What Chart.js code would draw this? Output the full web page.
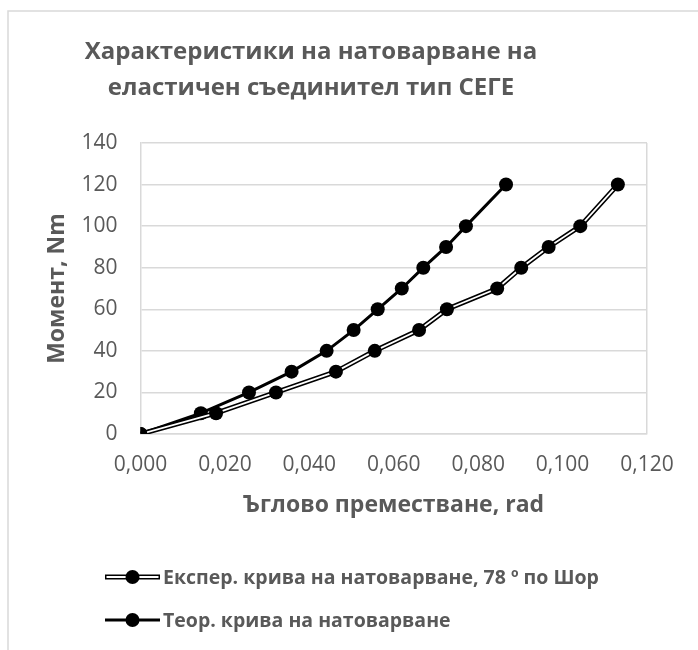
<!DOCTYPE html>
<html lang="bg">
<head>
<meta charset="utf-8">
<title>Характеристики на натоварване на еластичен съединител тип СЕГЕ</title>
<script src="https://cdn.jsdelivr.net/npm/chart.js@4.4.1/dist/chart.umd.min.js"></script>
<style>
  html, body { margin: 0; padding: 0; background: #ffffff; }
  #wrap { position: relative; width: 698px; height: 650px; }
</style>
</head>
<body>
<div id="wrap"><canvas id="chart"></canvas></div>
<script>
// Torque levels (Nm) at which the angle was recorded
const torque = [0, 10, 20, 30, 40, 50, 60, 70, 80, 90, 100, 120];
// Angular displacement (rad), experimental curve, 78 Shore
const expAngle = [0, 0.0179, 0.0321, 0.0463, 0.0555, 0.0660, 0.0726, 0.0845, 0.0902, 0.0967, 0.1042, 0.1131];
// Angular displacement (rad), theoretical curve
const theorAngle = [0, 0.0143, 0.0257, 0.0358, 0.0441, 0.0505, 0.0562, 0.0619, 0.0670, 0.0724, 0.0771, 0.0866];

const titleLines = ['Характеристики на натоварване на', 'еластичен съединител тип СЕГЕ'];
const expLabel = 'Експер. крива на натоварване, 78 º по Шор';
const theorLabel = 'Теор. крива на натоварване';
const xTitle = 'Ъглово преместване, rad';
const yTitle = 'Момент, Nm';

const TEXT = '#595959';
const GRID = '#d9d9d9';
const FONT = '"Open Sans", "Liberation Sans", sans-serif';

const pts = (xs) => xs.map((x, i) => ({ x: x, y: torque[i] }));

// Frame, title and legend drawn around the plot
const decor = {
  id: 'decor',
  beforeDraw(chart) {
    const ctx = chart.ctx;
    ctx.save();
    ctx.fillStyle = '#ffffff';
    ctx.fillRect(0, 0, chart.width, chart.height);
    ctx.strokeStyle = GRID;
    ctx.lineWidth = 1.5;
    ctx.strokeRect(8, 11, 900, 900);
    ctx.restore();
  },
  afterDraw(chart) {
    const ctx = chart.ctx;
    ctx.save();
    ctx.fillStyle = TEXT;
    ctx.textAlign = 'center';
    ctx.textBaseline = 'middle';
    ctx.font = 'bold 24px ' + FONT;
    ctx.fillText(titleLines[0], 311, 52.5);
    ctx.fillText(titleLines[1], 311, 88.5);

    // legend rows
    const rows = [
      { y: 577, text: expLabel, double: true },
      { y: 620, text: theorLabel, double: false }
    ];
    rows.forEach(r => {
      ctx.lineCap = 'butt';
      ctx.strokeStyle = '#000000';
      ctx.lineWidth = r.double ? 5 : 3;
      ctx.beginPath(); ctx.moveTo(105, r.y); ctx.lineTo(160, r.y); ctx.stroke();
      if (r.double) {
        ctx.strokeStyle = '#ffffff';
        ctx.lineWidth = 2;
        ctx.beginPath(); ctx.moveTo(106.5, r.y); ctx.lineTo(158.5, r.y); ctx.stroke();
      }
      ctx.fillStyle = '#000000';
      ctx.beginPath(); ctx.arc(132.5, r.y, 7, 0, Math.PI * 2); ctx.fill();
      ctx.fillStyle = TEXT;
      ctx.textAlign = 'left';
      ctx.font = 'bold 19.5px ' + FONT;
      ctx.fillText(r.text, 163, r.y + 1);
    });
    ctx.restore();
  }
};

new Chart(document.getElementById('chart'), {
  type: 'scatter',
  data: {
    datasets: [
      { // experimental curve markers
        label: expLabel, data: pts(expAngle), showLine: false,
        pointRadius: 7, pointBackgroundColor: '#000', pointBorderWidth: 0, order: 0
      },
      { // experimental curve, white core of the double line
        label: expLabel + ' (core)', data: pts(expAngle), showLine: true,
        borderColor: '#ffffff', borderWidth: 1.8, pointRadius: 0, order: 1
      },
      { // experimental curve, black outer line
        label: expLabel + ' (outline)', data: pts(expAngle), showLine: true,
        borderColor: '#000000', borderWidth: 5, pointRadius: 0, order: 2
      },
      { // theoretical curve
        label: theorLabel, data: pts(theorAngle), showLine: true,
        borderColor: '#000000', borderWidth: 3,
        pointRadius: 7, pointBackgroundColor: '#000', pointBorderWidth: 0, order: 3
      }
    ]
  },
  options: {
    responsive: true,
    maintainAspectRatio: false,
    animation: false,
    devicePixelRatio: 1,
    layout: { padding: { left: 0, right: 51, top: 143, bottom: 131 } },
    plugins: {
      legend: { display: false },
      title: { display: false },
      tooltip: { enabled: false }
    },
    scales: {
      x: {
        type: 'linear', min: 0, max: 0.12,
        ticks: {
          stepSize: 0.02, color: TEXT, padding: 18,
          font: { family: FONT, size: 21 },
          callback: v => v.toFixed(3).replace('.', ',')
        },
        grid: {
          drawTicks: false, lineWidth: 1.5,
          color: c => (c.tick && Math.abs(c.tick.value - 0.12) < 1e-9) ? GRID : 'rgba(0,0,0,0)'
        },
        border: { display: true, color: GRID, width: 1.5 },
        title: {
          display: true, text: xTitle, color: TEXT,
          font: { family: FONT, size: 23, weight: 'bold' },
          padding: { top: 0, bottom: 0 }
        },
        afterFit: s => { s.height = 85; }
      },
      y: {
        type: 'linear', min: 0, max: 140,
        ticks: {
          stepSize: 20, color: TEXT, padding: 23,
          font: { family: FONT, size: 21 }
        },
        grid: { drawTicks: false, color: GRID, lineWidth: 1.5 },
        border: { display: true, color: GRID, width: 1.5 },
        title: {
          display: true, text: yTitle, color: TEXT,
          font: { family: FONT, size: 23, weight: 'bold' },
          padding: { top: 44, bottom: 0 }
        },
        afterFit: s => { s.width = 140.5; }
      }
    }
  },
  plugins: [decor]
});
</script>
</body>
</html>
